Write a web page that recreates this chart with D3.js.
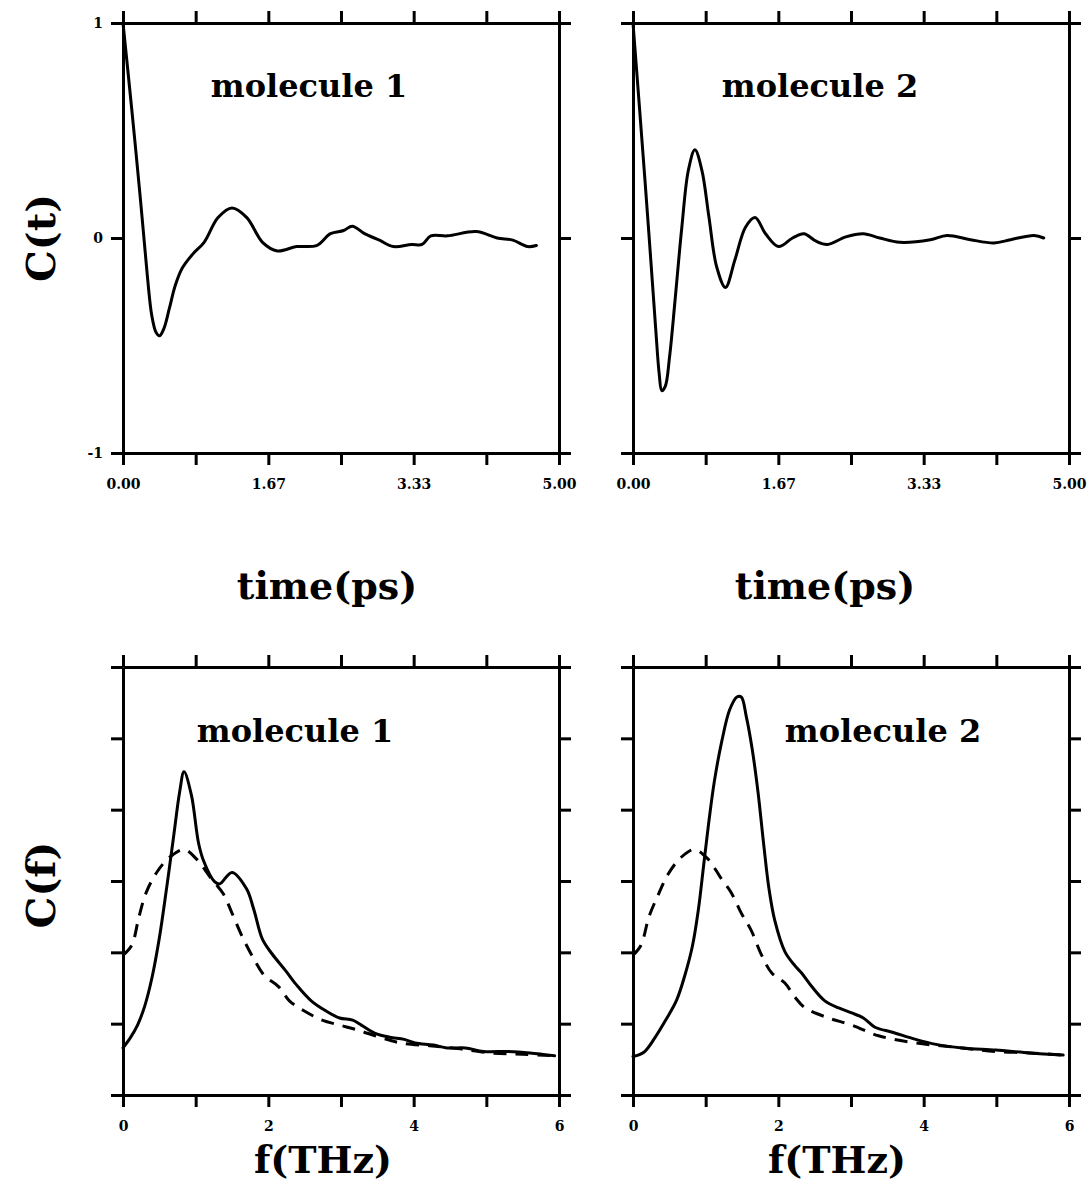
<!DOCTYPE html>
<html>
<head>
<meta charset="utf-8">
<script src="https://cdn.jsdelivr.net/npm/d3@7"></script>
<style>
    body { margin: 0; background: #fff; }
    svg { display: block; }
    .frame path.domain, .frame line { stroke: #000; stroke-width: 3; }
    .frame text { font-family: "DejaVu Serif", serif; font-weight: bold; font-size: 14px; fill: #000; }
    .title, .axis-label { font-family: "DejaVu Serif", serif; font-weight: bold; fill: #000; }
    .curve { fill: none; stroke: #000; stroke-width: 3; stroke-linejoin: round; }
</style>
</head>
<body>
<div id="chart"></div>
<script>
// C(t), time in ps
const ctMolecule1 = [
    [0, 1], [0.1, 0.6], [0.2, 0.18], [0.28, -0.18], [0.33, -0.36], [0.38, -0.44], [0.42, -0.455],
    [0.47, -0.42], [0.53, -0.33], [0.6, -0.22], [0.68, -0.14], [0.8, -0.075], [0.93, -0.02],
    [1.09, 0.095], [1.25, 0.14], [1.42, 0.095], [1.6, -0.02], [1.77, -0.06], [1.99, -0.04],
    [2.22, -0.035], [2.38, 0.02], [2.53, 0.035], [2.63, 0.055], [2.77, 0.02], [2.94, -0.01],
    [3.1, -0.04], [3.31, -0.03], [3.43, -0.03], [3.53, 0.01], [3.72, 0.01], [4.05, 0.03],
    [4.29, 0], [4.47, -0.01], [4.64, -0.04], [4.74, -0.035]
];
const ctMolecule2 = [
    [0, 1], [0.137, 0.27], [0.2, -0.08], [0.26, -0.42], [0.3, -0.63], [0.33, -0.71],
    [0.37, -0.69], [0.42, -0.55], [0.48, -0.3], [0.56, 0.05], [0.635, 0.315], [0.71, 0.41],
    [0.79, 0.315], [0.87, 0.1], [0.96, -0.135], [1.06, -0.23], [1.17, -0.1], [1.29, 0.05],
    [1.4, 0.095], [1.52, 0.02], [1.67, -0.04], [1.83, 0], [1.96, 0.02], [2.1, -0.015],
    [2.23, -0.03], [2.44, 0.005], [2.64, 0.02], [2.83, 0], [3.06, -0.02], [3.41, -0.008],
    [3.6, 0.012], [3.87, -0.008], [4.14, -0.023], [4.33, -0.008], [4.6, 0.012], [4.71, 0]
];

// C(f), frequency in THz (arbitrary units, 6 tick divisions)
const cfMolecule1 = [
    [0, 0.66], [0.1, 0.8], [0.2, 0.98], [0.3, 1.25], [0.4, 1.65], [0.5, 2.2], [0.6, 2.9],
    [0.7, 3.65], [0.78, 4.25], [0.84, 4.53], [0.94, 4.21], [1.04, 3.53], [1.11, 3.28],
    [1.26, 2.99], [1.33, 2.96], [1.5, 3.12], [1.7, 2.89], [1.8, 2.6], [1.92, 2.18],
    [2.05, 1.98], [2.24, 1.74], [2.39, 1.54], [2.59, 1.32], [2.79, 1.18], [2.98, 1.08],
    [3.16, 1.05], [3.28, 0.98], [3.48, 0.86], [3.67, 0.81], [3.87, 0.78], [4.02, 0.73],
    [4.27, 0.7], [4.46, 0.66], [4.71, 0.66], [4.96, 0.61], [5.3, 0.61], [5.6, 0.59], [5.94, 0.55]
];
const cfMolecule1Dashed = [
    [0, 1.96], [0.12, 2.1], [0.22, 2.5], [0.32, 2.84], [0.47, 3.13], [0.64, 3.33],
    [0.84, 3.44], [1.01, 3.31], [1.21, 3.04], [1.38, 2.82], [1.5, 2.55], [1.65, 2.2],
    [1.8, 1.91], [1.95, 1.67], [2.14, 1.52], [2.29, 1.32], [2.49, 1.18], [2.74, 1.05],
    [2.98, 0.98], [3.23, 0.91], [3.53, 0.81], [3.82, 0.73], [4.22, 0.69], [4.61, 0.65],
    [5.05, 0.59], [5.5, 0.57], [5.94, 0.55]
];
const cfMolecule2 = [
    [0, 0.54], [0.15, 0.6], [0.3, 0.8], [0.45, 1.05], [0.6, 1.33], [0.72, 1.7], [0.82, 2.1],
    [0.9, 2.6], [0.97, 3.2], [1.04, 3.8], [1.12, 4.4], [1.22, 4.95], [1.33, 5.4], [1.43, 5.58],
    [1.49, 5.58], [1.56, 5.3], [1.64, 4.85], [1.72, 4.25], [1.8, 3.5], [1.87, 2.9],
    [1.95, 2.45], [2.09, 2.01], [2.23, 1.81], [2.32, 1.71], [2.46, 1.52], [2.64, 1.32],
    [2.83, 1.22], [3.01, 1.15], [3.17, 1.08], [3.33, 0.95], [3.57, 0.88], [3.89, 0.78],
    [4.17, 0.71], [4.53, 0.66], [4.99, 0.63], [5.46, 0.59], [5.92, 0.56]
];
const cfMolecule2Dashed = [
    [0, 1.96], [0.11, 2.1], [0.22, 2.5], [0.34, 2.79], [0.48, 3.09], [0.66, 3.33],
    [0.84, 3.44], [1.03, 3.31], [1.21, 3.04], [1.35, 2.84], [1.49, 2.55], [1.63, 2.3],
    [1.77, 1.96], [1.91, 1.71], [2.09, 1.57], [2.23, 1.37], [2.37, 1.22], [2.69, 1.08],
    [3.01, 0.98], [3.38, 0.83], [3.89, 0.73], [4.53, 0.66], [4.99, 0.61], [5.46, 0.59],
    [5.92, 0.56]
];

// ticks
const timeTicks = [0, 5 / 6, 10 / 6, 15 / 6, 20 / 6, 25 / 6, 5];
const timeTickLabels = ["0.00", "", "1.67", "", "3.33", "", "5.00"];
const ctTicks = [-1, 0, 1];
const ctTickLabels = ["-1", "0", "1"];
const freqTicks = [0, 1, 2, 3, 4, 5, 6];
const freqTickLabels = ["0", "", "2", "", "4", "", "6"];
const cfTicks = [0, 1, 2, 3, 4, 5, 6];

const width = 1087;
const height = 1189;

const svg = d3.select("#chart")
    .append("svg")
    .attr("width", width)
    .attr("height", height);

// panel geometry
const colLeft = [123, 633];
const panelW = 436;
const rowTop = [23, 667];
const panelH = [430, 428];

function drawPanel(opts) {
    const g = svg.append("g").attr("transform", `translate(${opts.x},${opts.y})`);
    const x = d3.scaleLinear().domain(opts.xDomain).range([0, panelW]);
    const y = d3.scaleLinear().domain(opts.yDomain).range([opts.h, 0]);
    const tickLen = 12;

    // bottom axis with labels
    g.append("g").attr("class", "frame")
        .attr("transform", `translate(0,${opts.h})`)
        .call(d3.axisBottom(x).tickValues(opts.xTicks).tickSize(tickLen).tickSizeOuter(0)
            .tickPadding(14).tickFormat((d, i) => opts.xLabels[i]));
    // top axis
    g.append("g").attr("class", "frame")
        .call(d3.axisTop(x).tickValues(opts.xTicks).tickSize(tickLen).tickSizeOuter(0).tickFormat(""));
    // left axis
    g.append("g").attr("class", "frame")
        .call(d3.axisLeft(y).tickValues(opts.yTicks).tickSize(tickLen).tickSizeOuter(0)
            .tickPadding(8).tickFormat((d, i) => opts.yLabels ? opts.yLabels[i] : ""));
    // right axis
    g.append("g").attr("class", "frame")
        .attr("transform", `translate(${panelW},0)`)
        .call(d3.axisRight(y).tickValues(opts.yTicks).tickSize(tickLen).tickSizeOuter(0).tickFormat(""));

    const line = d3.line()
        .x(d => x(d[0]))
        .y(d => y(d[1]))
        .curve(d3.curveCatmullRom.alpha(0.5));

    opts.series.forEach(s => {
        g.append("path")
            .datum(s.data)
            .attr("class", "curve")
            .attr("stroke-dasharray", s.dashed ? "13,9" : null)
            .attr("stroke-linecap", s.dashed ? "butt" : "round")
            .attr("d", line);
    });

    g.append("text")
        .attr("class", "title")
        .attr("x", opts.titleX)
        .attr("y", opts.titleY)
        .attr("text-anchor", "middle")
        .style("font-size", "32px")
        .text(opts.title);

    g.append("text")
        .attr("class", "axis-label")
        .attr("x", opts.xLabelX)
        .attr("y", opts.h + opts.xLabelDy)
        .attr("text-anchor", "middle")
        .style("font-size", "38px")
        .text(opts.xTitle);
}

drawPanel({
    x: colLeft[0], y: rowTop[0], h: panelH[0],
    xDomain: [0, 5], yDomain: [-1, 1],
    xTicks: timeTicks, xLabels: timeTickLabels,
    yTicks: ctTicks, yLabels: ctTickLabels,
    series: [{ data: ctMolecule1 }],
    title: "molecule 1", titleX: 186, titleY: 74,
    xTitle: "time(ps)", xLabelX: 204, xLabelDy: 146
});
drawPanel({
    x: colLeft[1], y: rowTop[0], h: panelH[0],
    xDomain: [0, 5], yDomain: [-1, 1],
    xTicks: timeTicks, xLabels: timeTickLabels,
    yTicks: ctTicks, yLabels: null,
    series: [{ data: ctMolecule2 }],
    title: "molecule 2", titleX: 187, titleY: 74,
    xTitle: "time(ps)", xLabelX: 192, xLabelDy: 146
});
drawPanel({
    x: colLeft[0], y: rowTop[1], h: panelH[1],
    xDomain: [0, 6], yDomain: [0, 6],
    xTicks: freqTicks, xLabels: freqTickLabels,
    yTicks: cfTicks, yLabels: null,
    series: [{ data: cfMolecule1Dashed, dashed: true }, { data: cfMolecule1 }],
    title: "molecule 1", titleX: 172, titleY: 75,
    xTitle: "f(THz)", xLabelX: 200, xLabelDy: 78
});
drawPanel({
    x: colLeft[1], y: rowTop[1], h: panelH[1],
    xDomain: [0, 6], yDomain: [0, 6],
    xTicks: freqTicks, xLabels: freqTickLabels,
    yTicks: cfTicks, yLabels: null,
    series: [{ data: cfMolecule2Dashed, dashed: true }, { data: cfMolecule2 }],
    title: "molecule 2", titleX: 250, titleY: 75,
    xTitle: "f(THz)", xLabelX: 204, xLabelDy: 78
});

// y axis titles
svg.append("text")
    .attr("class", "axis-label")
    .attr("transform", `translate(55,${rowTop[0] + panelH[0] / 2}) rotate(-90)`)
    .attr("text-anchor", "middle")
    .style("font-size", "40px")
    .text("C(t)");
svg.append("text")
    .attr("class", "axis-label")
    .attr("transform", `translate(55,${rowTop[1] + 218}) rotate(-90)`)
    .attr("text-anchor", "middle")
    .style("font-size", "40px")
    .text("C(f)");
</script>
</body>
</html>
